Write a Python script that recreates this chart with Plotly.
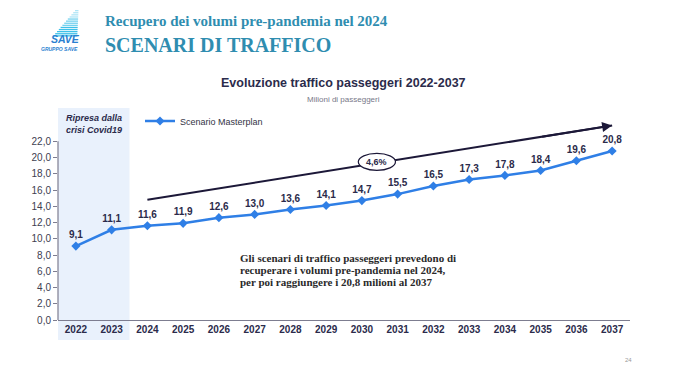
import plotly.graph_objects as go

# ---- data ----
years = [2022, 2023, 2024, 2025, 2026, 2027, 2028, 2029, 2030, 2031, 2032, 2033, 2034, 2035, 2036, 2037]
passengers = [9.1, 11.1, 11.6, 11.9, 12.6, 13.0, 13.6, 14.1, 14.7, 15.5, 16.5, 17.3, 17.8, 18.4, 19.6, 20.8]
y_ticks = [0, 2, 4, 6, 8, 10, 12, 14, 16, 18, 20, 22]
series_name = "Scenario Masterplan"
cagr_label = "4,6%"
trend_start = (2024, 14.8)
trend_end = (2037, 23.95)
note_lines = [
    "Gli scenari di traffico passeggeri prevedono di",
    "recuperare i volumi pre-pandemia nel 2024,",
    "per poi raggiungere i 20,8 milioni al 2037",
]

# page offset (browser body margin)
O = 8
W, H = 664, 367
ML, MR, MT, MB = 50, 42, 113, 55
PW, PH = W - ML - MR, H - MT - MB


def px(x):
    """page pixel x -> paper x"""
    return (x - O - ML) / PW


def py(y):
    """page pixel y -> paper y"""
    return (H - MB - (y - O)) / PH


NAVY = "#2b2b4b"
BLUE = "#2f7fe6"
DARK = "#1c1838"

labels = [f"{v:.1f}".replace(".", ",") for v in passengers]

fig = go.Figure()
fig.add_trace(go.Scatter(
    x=years, y=passengers, mode="lines+markers+text", name=series_name,
    line=dict(color=BLUE, width=2.5),
    marker=dict(symbol="diamond", size=7, color=BLUE),
    text=labels, textposition="top center",
    textfont=dict(family="Liberation Sans", size=10, color=NAVY, weight="bold"),
    cliponaxis=False,
))

shapes = []
# shaded band for 2022-2023
shapes.append(dict(type="rect", xref="x", yref="paper", x0=2021.5, x1=2023.5,
                   y0=py(340), y1=py(108), fillcolor="#e9f1fc", line=dict(width=0), layer="below"))
# y axis line
shapes.append(dict(type="line", xref="paper", yref="y", x0=0, x1=0, y0=0, y1=22,
                   line=dict(color="#7d7d90", width=1.2)))
# trend line
shapes.append(dict(type="line", xref="x", yref="y", x0=trend_start[0], y0=trend_start[1],
                   x1=trend_end[0], y1=trend_end[1], line=dict(color=DARK, width=2)))
# ellipse
ex = 2030.42
ey = trend_start[1] + (ex - trend_start[0]) / (trend_end[0] - trend_start[0]) * (trend_end[1] - trend_start[1]) + 0.15
shapes.append(dict(type="circle", xref="x", yref="y", x0=ex - 0.52, x1=ex + 0.52, y0=ey - 1.05, y1=ey + 1.05,
                   fillcolor="white", line=dict(color=DARK, width=1.2)))

# logo stripes
for i in range(13):
    ytop = 10 + i * 2.1
    xl = 75 - i * 1.8
    col = "#aee5f6" if i < 4 else ("#74d2ef" if i < 8 else "#3ec1e9")
    shapes.append(dict(type="rect", xref="paper", yref="paper", x0=px(xl), x1=px(78.5 - i * 0.1),
                       y0=py(ytop + 1.3), y1=py(ytop), fillcolor=col,
                       line=dict(width=0), layer="above"))

annotations = []
# arrow head
annotations.append(dict(x=trend_end[0], y=trend_end[1], xref="x", yref="y",
                        ax=2035, ay=trend_end[1] - 2 * (trend_end[1] - trend_start[1]) / 13,
                        axref="x", ayref="y", text="", showarrow=True, arrowhead=2,
                        arrowsize=1, arrowwidth=2, arrowcolor=DARK))
annotations.append(dict(x=ex, y=ey, xref="x", yref="y", text=cagr_label, showarrow=False,
                        xanchor="center", yanchor="middle",
                        font=dict(family="Liberation Sans", size=9, color=NAVY, weight="bold")))
# band label
annotations.append(dict(x=2022.5, y=py(124), xref="x", yref="paper", xanchor="center", yanchor="middle",
                        text="<b><i>Ripresa dalla<br>crisi Covid19</i></b>", showarrow=False,
                        font=dict(family="Liberation Sans", size=9, color=NAVY)))
# chart title
annotations.append(dict(x=px(343), y=py(83), xref="paper", yref="paper", xanchor="center", yanchor="middle",
                        text="<b>Evoluzione traffico passeggeri 2022-2037</b>", showarrow=False,
                        font=dict(family="Liberation Sans", size=12.5, color=NAVY)))
annotations.append(dict(x=px(343), y=py(99), xref="paper", yref="paper", xanchor="center", yanchor="middle",
                        text="Milioni di passeggeri", showarrow=False,
                        font=dict(family="Liberation Sans", size=8, color="#777788")))
# header
annotations.append(dict(x=px(103), y=py(21), xref="paper", yref="paper", xanchor="left", yanchor="middle",
                        text="<b>Recupero dei volumi pre-pandemia nel 2024</b>", showarrow=False,
                        font=dict(family="Liberation Serif", size=15, color="#2f8db0")))
annotations.append(dict(x=px(103), y=py(45), xref="paper", yref="paper", xanchor="left", yanchor="middle",
                        text="<b>SCENARI DI TRAFFICO</b>", showarrow=False,
                        font=dict(family="Liberation Serif", size=20, color="#2f8db0")))
# logo text
annotations.append(dict(x=px(65), y=py(39.5), xref="paper", yref="paper", xanchor="center", yanchor="middle",
                        text="<b><i>SAVE</i></b>", showarrow=False,
                        font=dict(family="Liberation Sans", size=10.5, color="#2a7fd0")))
annotations.append(dict(x=px(59), y=py(49.5), xref="paper", yref="paper", xanchor="center", yanchor="middle",
                        text="<b><i>GRUPPO SAVE</i></b>", showarrow=False,
                        font=dict(family="Liberation Sans", size=5, color="#2a7fd0")))
# text block, one line per annotation
for k, line in enumerate(note_lines):
    annotations.append(dict(x=px(238), y=py(258 + 12 * k), xref="paper", yref="paper",
                            xanchor="left", yanchor="middle", text=f"<b>{line}</b>", showarrow=False,
                            font=dict(family="Liberation Serif", size=11, color="#2a2a2a")))
# page number
annotations.append(dict(x=px(628), y=py(360), xref="paper", yref="paper", xanchor="center", yanchor="middle",
                        text="24", showarrow=False,
                        font=dict(family="Liberation Sans", size=6, color="#999999")))

fig.update_layout(
    width=W, height=H,
    margin=dict(l=ML, r=MR, t=MT, b=MB),
    paper_bgcolor="white", plot_bgcolor="rgba(0,0,0,0)",
    separators=",.",
    showlegend=True,
    legend=dict(x=px(140), y=py(121), xanchor="left", yanchor="middle", orientation="h",
                bgcolor="rgba(0,0,0,0)", itemwidth=30,
                font=dict(family="Liberation Sans", size=9, color="#333344")),
    xaxis=dict(range=[2021.5, 2037.5], tickvals=years, ticktext=[str(y) for y in years],
               showgrid=False, zeroline=False, showline=True, linecolor="#7d7d90", linewidth=1.2,
               ticks="", tickfont=dict(family="Liberation Sans", size=10, color=NAVY, weight="bold")),
    yaxis=dict(range=[0, 24.5], tickvals=y_ticks, tickformat=".1f", showgrid=False, zeroline=False,
               showline=False, ticks="outside", ticklen=4, tickcolor="#7d7d90",
               tickfont=dict(family="Liberation Sans", size=10, color="#404050")),
    shapes=shapes, annotations=annotations,
)

fig.write_html("out.html")
